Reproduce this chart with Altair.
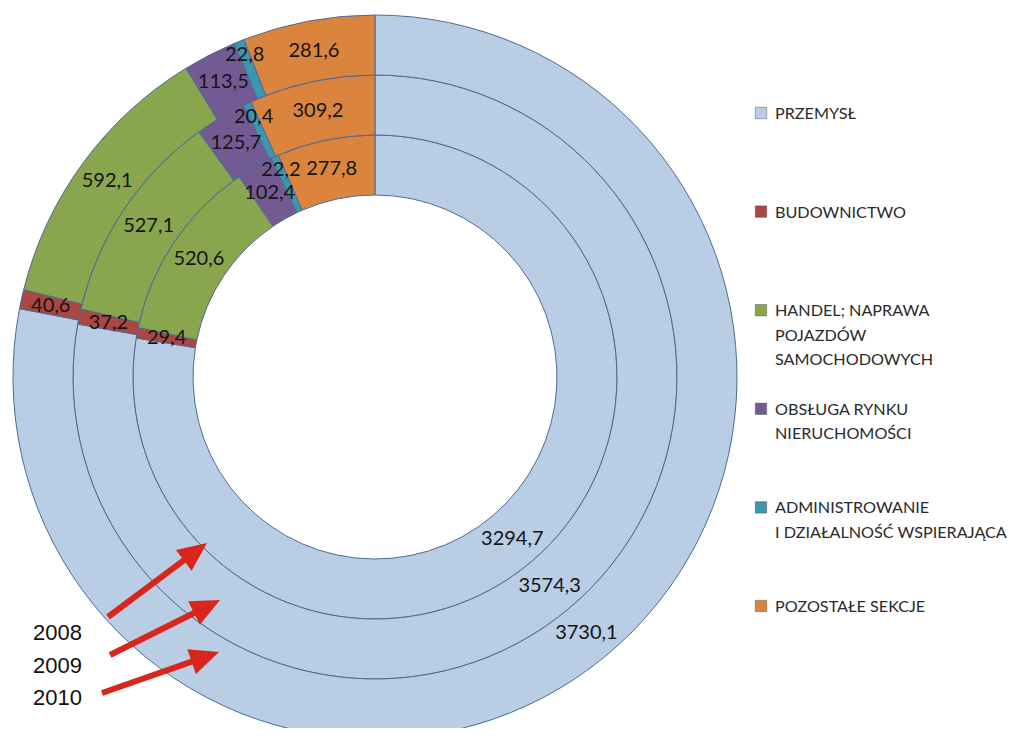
import math
import altair as alt
import pandas as pd

# ---------------- data ----------------
YEARS = ["2008", "2009", "2010"]
SECTORS = [
    "PRZEMYSŁ",
    "BUDOWNICTWO",
    "HANDEL; NAPRAWA POJAZDÓW SAMOCHODOWYCH",
    "OBSŁUGA RYNKU NIERUCHOMOŚCI",
    "ADMINISTROWANIE I DZIAŁALNOŚĆ WSPIERAJĄCA",
    "POZOSTAŁE SEKCJE",
]
LEGEND_LABELS = [
    "PRZEMYSŁ",
    "BUDOWNICTWO",
    "HANDEL; NAPRAWA\nPOJAZDÓW\nSAMOCHODOWYCH",
    "OBSŁUGA RYNKU\nNIERUCHOMOŚCI",
    "ADMINISTROWANIE\nI DZIAŁALNOŚĆ WSPIERAJĄCA",
    "POZOSTAŁE SEKCJE",
]
PRZEMYSL = [3294.7, 3574.3, 3730.1]
BUDOWNICTWO = [29.4, 37.2, 40.6]
HANDEL = [520.6, 527.1, 592.1]
OBSLUGA = [102.4, 125.7, 113.5]
ADMIN = [22.2, 20.4, 22.8]
POZOSTALE = [277.8, 309.2, 281.6]
SERIES = [PRZEMYSL, BUDOWNICTWO, HANDEL, OBSLUGA, ADMIN, POZOSTALE]

COLORS = ["#B9CDE5", "#AA4643", "#89A54E", "#745A92", "#3D96AE", "#DB843D"]

rows = []
for yi, yr in enumerate(YEARS):
    for si, sec in enumerate(SECTORS):
        v = SERIES[si][yi]
        rows.append({"year": yr, "sector": sec, "idx": si, "value": v,
                     "label": f"{v:.1f}".replace(".", ",")})
df = pd.DataFrame(rows)
legend_df = pd.DataFrame({"sector": SECTORS, "text": LEGEND_LABELS})

# ---------------- layout ----------------
CX, CY = 367, 369
RING = {"2008": (182, 242), "2009": (242, 302), "2010": (302, 362)}
color_scale = alt.Scale(domain=SECTORS, range=COLORS)
theta_scale = alt.Scale(domain=[0, 1], range=[0, 2 * math.pi])

layers = []
for yr in YEARS:
    r_in, r_out = RING[yr]
    mid = (r_in + r_out) / 2
    arcs = alt.Chart(df).transform_filter(alt.datum.year == yr).mark_arc(
        radius=r_out, radius2=r_in, stroke="#4d6a94", strokeWidth=1
    ).encode(
        theta=alt.Theta("value:Q", stack="normalize", scale=theta_scale),
        order=alt.Order("idx:Q", sort="ascending"),
        color=alt.Color("sector:N", scale=color_scale, legend=None),
        x=alt.value(CX),
        y=alt.value(CY),
    )
    # labels at the middle of each slice; thin slices pushed a little outward
    txt = alt.Chart(df).transform_filter(alt.datum.year == yr).transform_window(
        cum="sum(value)", sort=[alt.SortField("idx")], frame=[None, 0]
    ).transform_joinaggregate(total="sum(value)").transform_calculate(
        midf="(datum.cum - datum.value / 2) / datum.total",
        lr=f"datum.idx == 4 ? {mid + 15} : {mid}",
    ).mark_text(font="Lato", fontSize=20, color="#141414").encode(
        theta=alt.Theta("midf:Q", stack=None, scale=theta_scale),
        radius=alt.Radius("lr:Q", scale=None),
        text="label:N",
        x=alt.value(CX),
        y=alt.value(CY),
    )
    layers += [arcs, txt]

# legend (manual, from the sector list)
leg_y = alt.Y("sector:N", scale=alt.Scale(type="point", domain=SECTORS,
                                          range=[105, 598], padding=0), axis=None)
leg_sq = alt.Chart(legend_df).mark_square(size=130, opacity=1, stroke="#555555",
                                          strokeWidth=0.7, strokeOpacity=0.7).encode(
    x=alt.value(753), y=leg_y,
    color=alt.Color("sector:N", scale=color_scale, legend=None),
)
leg_tx = alt.Chart(legend_df).mark_text(align="left", baseline="top", dy=-7,
                                        lineBreak="\n", lineHeight=24.5,
                                        font="Lato", fontSize=16.2,
                                        color="#2a2a2a").encode(
    x=alt.value(767), y=leg_y, text="text:N")
layers += [leg_sq, leg_tx]

# year annotations with red arrows (page coordinates minus the 8px margin)
ARROWS = [((108, 617), (207, 543)), ((110, 655), (220, 600)), ((102, 693), (219, 652))]
YEAR_POS = [(33, 633), (33, 666), (33, 698)]
HEAD = 29
for (tail, tip), yr, (lx, ly) in zip(ARROWS, YEARS, YEAR_POS):
    dx, dy = tip[0] - tail[0], tip[1] - tail[1]
    L = math.hypot(dx, dy)
    ux, uy = dx / L, dy / L
    ang = math.degrees(math.atan2(dx, -dy))
    cx, cy = tip[0] - ux * HEAD / 2, tip[1] - uy * HEAD / 2
    one = pd.DataFrame({"k": [yr]})
    shaft = alt.Chart(one).mark_rule(color="#D9261C", strokeWidth=6).encode(
        x=alt.value(tail[0] - 8), y=alt.value(tail[1] - 8),
        x2=alt.value(cx - 8), y2=alt.value(cy - 8))
    head = alt.Chart(one).mark_point(shape="M0,-1L0.9,1L-0.9,1Z", filled=True,
                                     opacity=1, color="#D9261C",
                                     size=HEAD * HEAD, angle=ang).encode(
        x=alt.value(cx - 8), y=alt.value(cy - 8))
    lab = alt.Chart(one).mark_text(align="left", baseline="middle",
                                   font="Liberation Sans", fontSize=22,
                                   color="#111111").encode(
        x=alt.value(lx - 8), y=alt.value(ly - 8), text="k:N")
    layers += [shaft, head, lab]

chart = alt.layer(*layers).properties(
    width=1003, height=720, padding=0,
    autosize=alt.AutoSizeParams(type="none"),
    background="white",
).configure_view(stroke=None)

chart.save("out.html", embed_options={"renderer": "svg", "actions": False})
